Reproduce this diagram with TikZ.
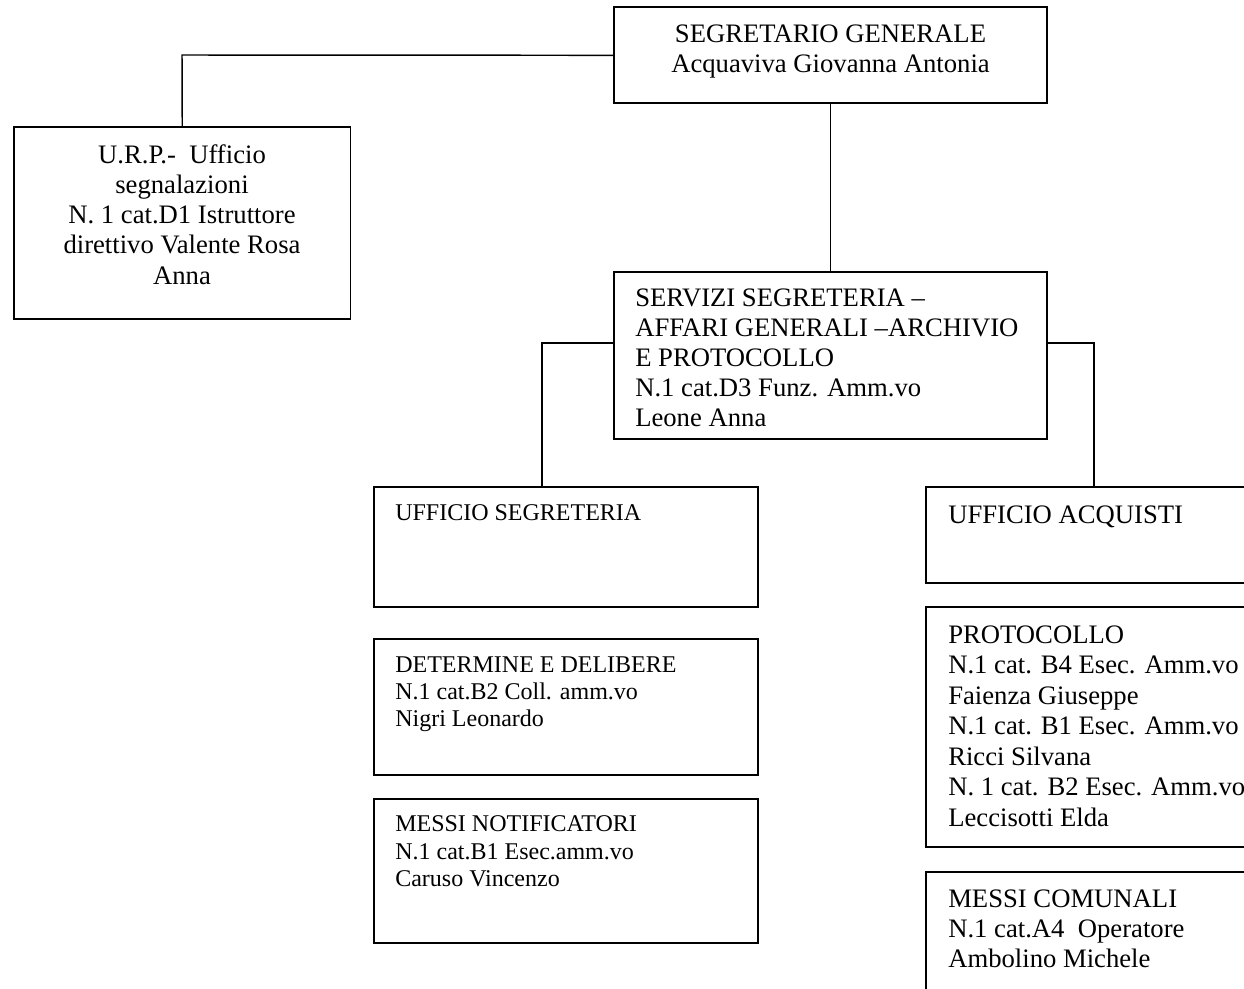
\documentclass[tikz,border=0pt]{standalone}
\usepackage{fontspec}
\setmainfont{Liberation Serif}
\newcommand\boxlines[7]{%
  \foreach \t [count=\i from 0] in {#7} {\node[#2, anchor=#3] (#1-\i) at (#4,{#5+\i*#6}) {\t};}}
\begin{document}
\begin{tikzpicture}[x=0.75pt,y=-0.75pt,
  box/.style={draw, line width=1.4pt, inner sep=0, outer sep=0, anchor=north west},
  link/.style={line width=1.1pt},
  big/.style={font=\fontsize{20}{22}\selectfont, inner sep=0},
  small/.style={font=\fontsize{18}{20}\selectfont, inner sep=0}]
\useasboundingbox (0,0) rectangle (1244,988);
\clip (0,0) rectangle (1244,988);
\fill[white] (0,0) rectangle (1244,988);

% boxes
\node[box, minimum width=324.75pt, minimum height=72pt]  (sg)   at (614,7.3) {};
\node[box, minimum width=252.4pt,  minimum height=144pt] (urp)  at (14,127) {};
\node[box, minimum width=324.75pt, minimum height=125.5pt] (serv) at (614,271.7) {};
\node[box, minimum width=288pt, minimum height=90pt]  (useg) at (374,487) {};
\node[box, minimum width=288pt, minimum height=102pt] (det)  at (374,639) {};
\node[box, minimum width=288pt, minimum height=108pt] (msn)  at (374,799) {};
\node[box, minimum width=243pt, minimum height=72pt]  (acq)  at (926,487) {};
\node[box, minimum width=243pt, minimum height=180pt] (prot) at (926,607) {};
\node[box, minimum width=243pt, minimum height=97.5pt] (msc) at (926,872) {};

% texts
\boxlines{tsg}{big}{base}{830.5}{42.7}{30}{SEGRETARIO GENERALE, Acquaviva Giovanna Antonia}
\boxlines{turp}{big}{base}{182}{163}{30.3}{U.R.P.-\ \ Ufficio, segnalazioni, N. 1 cat.D1 Istruttore, direttivo Valente Rosa, Anna}
\boxlines{tserv}{big}{base west}{635}{306.7}{30}{SERVIZI SEGRETERIA –, AFFARI GENERALI –ARCHIVIO, E PROTOCOLLO, N.1 cat.D3 Funz. Amm.vo, Leone Anna}
\boxlines{tuseg}{small}{base west}{395}{520}{27}{UFFICIO SEGRETERIA}
\boxlines{tdet}{small}{base west}{395}{672.7}{27}{DETERMINE E DELIBERE, N.1 cat.B2 Coll. amm.vo, Nigri Leonardo}
\boxlines{tmsn}{small}{base west}{395}{831.7}{27.5}{MESSI NOTIFICATORI, N.1 cat.B1 Esec.amm.vo, Caruso Vincenzo}
\boxlines{tacq}{big}{base west}{948}{523}{30}{UFFICIO ACQUISTI}
\boxlines{tprot}{big}{base west}{948}{643}{30.5}{PROTOCOLLO, N.1 cat. B4 Esec. Amm.vo, Faienza Giuseppe, N.1 cat. B1 Esec. Amm.vo, Ricci Silvana, N. 1 cat. B2 Esec. Amm.vo, Leccisotti Elda}
\boxlines{tmsc}{big}{base west}{948}{907}{30}{MESSI COMUNALI, N.1 cat.A4\ \ Operatore, Ambolino Michele}

% connectors
\coordinate (jurp) at (182,55);
\coordinate (jl) at (542,343);
\coordinate (jr) at (1094,343);
\draw[link] (sg.west) -- (jurp) -- (urp.north);
\draw[link] (sg.south) -- (serv.north);
\draw[link] (serv.west |- jl) -- (jl) -- (jl |- useg.north);
\draw[link] (serv.east |- jr) -- (jr) -- (jr |- acq.north);
\end{tikzpicture}
\end{document}
